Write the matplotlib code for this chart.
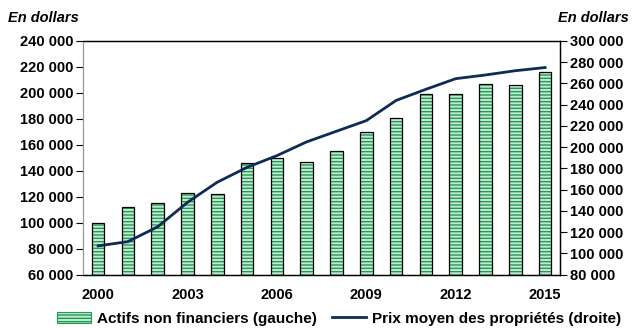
import numpy as np
import matplotlib
matplotlib.use("Agg")
import matplotlib.pyplot as plt
from matplotlib.patches import Patch
from matplotlib.lines import Line2D

plt.rcParams['font.family'] = ['Liberation Sans', 'DejaVu Sans']
plt.rcParams['font.weight'] = 'bold'

# data
years = list(range(2000, 2016))
actifs = [100000, 112000, 115000, 123000, 122000, 146000, 150000, 147000,
          155000, 170000, 180500, 199000, 199000, 206500, 205800, 216000]
prix = [107000, 111000, 125000, 148000, 167000, 181000, 192000, 205000,
        215000, 225000, 244000, 254500, 264500, 268000, 272000, 275000]
xtick_years = [2000, 2003, 2006, 2009, 2012, 2015]

bar_face = '#c6e9d1'
bar_hatch = '#1f9a57'
line_col = '#0f2a55'

fig = plt.figure(figsize=(6.4, 3.28), dpi=100)
ax = fig.add_axes([0.130, 0.163, 0.745, 0.712])
ax2 = ax.twinx()

x = np.arange(len(years))
# striped bars: hatch layer then black outline
ax.bar(x, actifs, width=0.42, color=bar_face, edgecolor=bar_hatch,
       hatch='-----', linewidth=0, zorder=2)
ax.bar(x, actifs, width=0.42, fill=False, edgecolor='black',
       linewidth=0.9, zorder=3)
ax2.plot(x, prix, color=line_col, linewidth=2.0, zorder=4)

ax.set_xlim(-0.5, len(years) - 0.5)
ax.set_ylim(60000, 240000)
ax2.set_ylim(80000, 300000)

fmt = lambda v: f"{int(v):,}".replace(",", " ")
lt = np.arange(60000, 240001, 20000)
rt = np.arange(80000, 300001, 20000)
ax.set_yticks(lt)
ax.set_yticklabels([fmt(v) for v in lt], fontsize=10.5, fontweight='bold')
ax2.set_yticks(rt)
ax2.set_yticklabels([fmt(v) for v in rt], fontsize=10.5, fontweight='bold')
ax.set_xticks([years.index(y) for y in xtick_years])
ax.set_xticklabels([str(y) for y in xtick_years], fontsize=10.5, fontweight='bold')
ax.tick_params(axis='x', length=0, pad=10)
ax.tick_params(axis='y', length=5, width=0.8, colors='black', pad=2)
ax2.tick_params(axis='y', length=5, width=0.8, pad=2)

for a in (ax, ax2):
    for s in a.spines.values():
        s.set_color('black')
        s.set_linewidth(0.9)
ax.spines['left'].set_color('#999999')
ax2.spines['left'].set_visible(False)

fig.text(0.012, 0.945, "En dollars", fontsize=10.5, fontweight='bold',
         style='italic', ha='left', va='center')
fig.text(0.982, 0.945, "En dollars", fontsize=10.5, fontweight='bold',
         style='italic', ha='right', va='center')

handles = [Patch(facecolor=bar_face, edgecolor=bar_hatch, hatch='-----', linewidth=0.8),
           Line2D([0], [0], color=line_col, linewidth=2.0)]
labels = ["Actifs non financiers (gauche)", "Prix moyen des propriétés (droite)"]
fig.legend(handles, labels, loc='lower center', bbox_to_anchor=(0.53, -0.035),
           ncol=2, frameon=False, prop={'size': 11, 'weight': 'bold'},
           handlelength=2.2, handleheight=0.7, columnspacing=1.0, handletextpad=0.4)

fig.savefig("out.png", dpi=100)
